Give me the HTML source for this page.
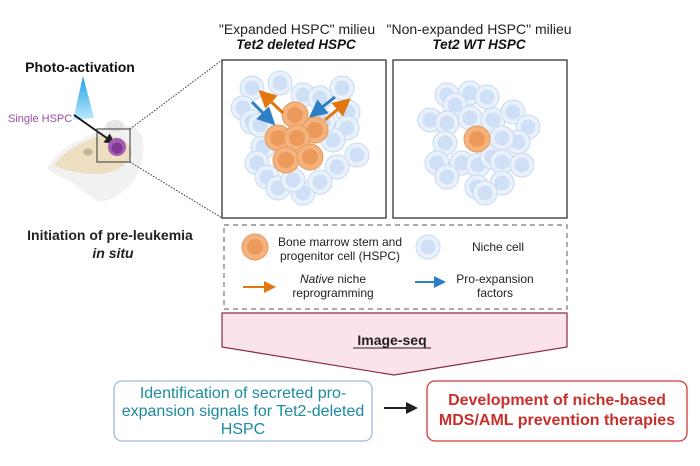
<!DOCTYPE html>
<html><head><meta charset="utf-8"><style>
html,body{margin:0;padding:0;background:#fff;}
svg{display:block;font-family:"Liberation Sans",Arial,sans-serif;}
</style></head><body>
<svg width="700" height="466" viewBox="0 0 700 466" xmlns="http://www.w3.org/2000/svg">
<defs>
<linearGradient id="beam" x1="0" y1="0" x2="0" y2="1"><stop offset="0" stop-color="#1aa0e8"/><stop offset="1" stop-color="#bfeafc"/></linearGradient>
<g id="n"><circle r="12" fill="#e9f2fc" stroke="#c6d9ef" stroke-width="1"/><circle r="7.5" fill="#cfe0f6"/></g>
<g id="o"><circle r="13" fill="#f5b27c" stroke="#e49a5e" stroke-width="1"/><circle r="8" fill="#ec9a5c"/></g>
<marker id="ab" markerWidth="6" markerHeight="6" refX="3" refY="3" orient="auto"><path d="M0,0L6,3L0,6z" fill="#2f7fc5"/></marker>
<marker id="ao" markerWidth="6" markerHeight="6" refX="3" refY="3" orient="auto"><path d="M0,0L6,3L0,6z" fill="#e2760f"/></marker>
<marker id="ak" markerWidth="6" markerHeight="6" refX="3" refY="3" orient="auto"><path d="M0,0L6,3L0,6z" fill="#222"/></marker>
</defs>

<text x="80" y="72" font-size="14" font-weight="bold" text-anchor="middle" fill="#111">Photo-activation</text>
<polygon points="83,76 73,120 94,118" fill="url(#beam)"/>
<text x="8" y="122" font-size="11" fill="#9b4fa8">Single HSPC</text>
<path d="M48,168 C56,150 80,138 100,132 C108,122 118,120 125,126 C140,124 147,140 142,158 C140,180 122,198 100,202 C88,196 78,186 68,180 C58,176 50,174 48,168z" fill="#f1f1f1"/>
<path d="M54,165 C66,150 85,140 100,136 C115,134 130,140 132,152 C130,165 115,172 100,174 C85,174 66,172 54,165z" fill="#ecdcbc" opacity="0.9"/>
<ellipse cx="88" cy="152" rx="5" ry="3.5" fill="#c9b399"/>
<ellipse cx="115" cy="126" rx="9" ry="6" fill="#e4e4e4"/>
<line x1="74" y1="115" x2="111" y2="141" stroke="#111" stroke-width="1.8" marker-end="url(#ak)"/>
<circle cx="117" cy="147" r="9" fill="#a45cb5"/><circle cx="117" cy="148" r="5.5" fill="#7d3a92"/>
<rect x="97" y="129" width="33" height="33" fill="none" stroke="#333" stroke-width="1"/>
<line x1="130" y1="129" x2="222" y2="60" stroke="#333" stroke-width="1" stroke-dasharray="1.5,1.5"/>
<line x1="130" y1="162" x2="222" y2="218" stroke="#333" stroke-width="1" stroke-dasharray="1.5,1.5"/>
<text x="110" y="240" font-size="14" font-weight="bold" text-anchor="middle" fill="#222">Initiation of pre-leukemia</text>
<text x="113" y="258" font-size="14" font-weight="bold" font-style="italic" text-anchor="middle" fill="#222">in situ</text>

<text x="297" y="34" font-size="14" text-anchor="middle" fill="#222">"Expanded HSPC" milieu</text>
<text x="296" y="49" font-size="13.5" font-weight="bold" font-style="italic" text-anchor="middle" fill="#111">Tet2 deleted HSPC</text>
<text x="479" y="34" font-size="14" text-anchor="middle" fill="#222">"Non-expanded HSPC" milieu</text>
<text x="479" y="49" font-size="13.5" font-weight="bold" font-style="italic" text-anchor="middle" fill="#111">Tet2 WT HSPC</text>

<rect x="222" y="60" width="164" height="158" fill="#fff" stroke="#222" stroke-width="1.2"/>
<use href="#n" x="252" y="88"/><use href="#n" x="280" y="83"/><use href="#n" x="342" y="88"/><use href="#n" x="243" y="108"/><use href="#n" x="252" y="122"/><use href="#n" x="303" y="95"/><use href="#n" x="320" y="98"/><use href="#n" x="348" y="112"/><use href="#n" x="347" y="128"/><use href="#n" x="263" y="147"/><use href="#n" x="333" y="140"/><use href="#n" x="357" y="155"/><use href="#n" x="257" y="163"/><use href="#n" x="337" y="167"/><use href="#n" x="267" y="177"/><use href="#n" x="278" y="188"/><use href="#n" x="303" y="193"/><use href="#n" x="320" y="182"/><use href="#n" x="293" y="180"/><use href="#n" x="323" y="122"/><use href="#n" x="260" y="125"/>
<use href="#o" x="295" y="115"/><use href="#o" x="315" y="130"/><use href="#o" x="278" y="138"/><use href="#o" x="297" y="138"/><use href="#o" x="286" y="160"/><use href="#o" x="310" y="157"/>
<line x1="252" y1="102" x2="269" y2="119" stroke="#2f7fc5" stroke-width="3" marker-end="url(#ab)"/>
<line x1="335" y1="97" x2="316" y2="112" stroke="#2f7fc5" stroke-width="3" marker-end="url(#ab)"/>
<line x1="283" y1="113" x2="265" y2="96" stroke="#e2760f" stroke-width="3" marker-end="url(#ao)"/>
<line x1="325" y1="120" x2="344" y2="104" stroke="#e2760f" stroke-width="3" marker-end="url(#ao)"/>

<rect x="393" y="60" width="174" height="158" fill="#fff" stroke="#222" stroke-width="1.2"/>
<use href="#n" x="447" y="95"/><use href="#n" x="470" y="93"/><use href="#n" x="487" y="97"/><use href="#n" x="455" y="105"/><use href="#n" x="430" y="120"/><use href="#n" x="447" y="123"/><use href="#n" x="470" y="118"/><use href="#n" x="493" y="120"/><use href="#n" x="513" y="112"/><use href="#n" x="528" y="127"/><use href="#n" x="445" y="143"/><use href="#n" x="518" y="142"/><use href="#n" x="437" y="163"/><use href="#n" x="462" y="163"/><use href="#n" x="478" y="165"/><use href="#n" x="492" y="157"/><use href="#n" x="502" y="162"/><use href="#n" x="522" y="165"/><use href="#n" x="447" y="177"/><use href="#n" x="477" y="187"/><use href="#n" x="502" y="183"/><use href="#n" x="485" y="193"/><use href="#n" x="502" y="138"/>
<use href="#o" x="477" y="139"/>

<rect x="224" y="225" width="343" height="84" fill="none" stroke="#777" stroke-width="1.2" stroke-dasharray="5,4"/>
<use href="#o" x="255" y="247"/>
<text x="340" y="246" font-size="12" text-anchor="middle" fill="#222">Bone marrow stem and</text>
<text x="340" y="260" font-size="12" text-anchor="middle" fill="#222">progenitor cell (HSPC)</text>
<use href="#n" x="428" y="247"/>
<text x="498" y="251" font-size="12" text-anchor="middle" fill="#222">Niche cell</text>
<line x1="243" y1="287" x2="270" y2="287" stroke="#e2760f" stroke-width="2" marker-end="url(#ao)"/>
<text x="333" y="283" font-size="12" text-anchor="middle" fill="#222"><tspan font-style="italic">Native</tspan> niche</text>
<text x="333" y="297" font-size="12" text-anchor="middle" fill="#222">reprogramming</text>
<line x1="415" y1="282" x2="440" y2="282" stroke="#2f7fc5" stroke-width="2" marker-end="url(#ab)"/>
<text x="495" y="283" font-size="12" text-anchor="middle" fill="#222">Pro-expansion</text>
<text x="495" y="297" font-size="12" text-anchor="middle" fill="#222">factors</text>

<polygon points="222,313 567,313 567,347 394,375 222,347" fill="#fbe3ea" stroke="#8a2a48" stroke-width="1.2"/>
<text x="392" y="345" font-size="14" font-weight="bold" text-anchor="middle" fill="#222">Image-seq</text>
<line x1="353" y1="348" x2="431" y2="348" stroke="#222" stroke-width="1"/>

<rect x="114" y="381" width="258" height="60" rx="8" fill="#fff" stroke="#9fb9df" stroke-width="1.3"/>
<text x="243" y="398" font-size="16" text-anchor="middle" fill="#1d8aa0">Identification of secreted pro-</text>
<text x="243" y="416" font-size="16" text-anchor="middle" fill="#1d8aa0">expansion signals for Tet2-deleted</text>
<text x="243" y="434" font-size="16" text-anchor="middle" fill="#1d8aa0">HSPC</text>
<line x1="384" y1="408" x2="412" y2="408" stroke="#222" stroke-width="2" marker-end="url(#ak)"/>
<rect x="427" y="381" width="260" height="60" rx="8" fill="#fff" stroke="#d23a3a" stroke-width="1.3"/>
<text x="557" y="405" font-size="16" font-weight="bold" text-anchor="middle" fill="#c9302c">Development of niche-based</text>
<text x="557" y="425" font-size="16" font-weight="bold" text-anchor="middle" fill="#c9302c">MDS/AML prevention therapies</text>
</svg>
</body></html>
